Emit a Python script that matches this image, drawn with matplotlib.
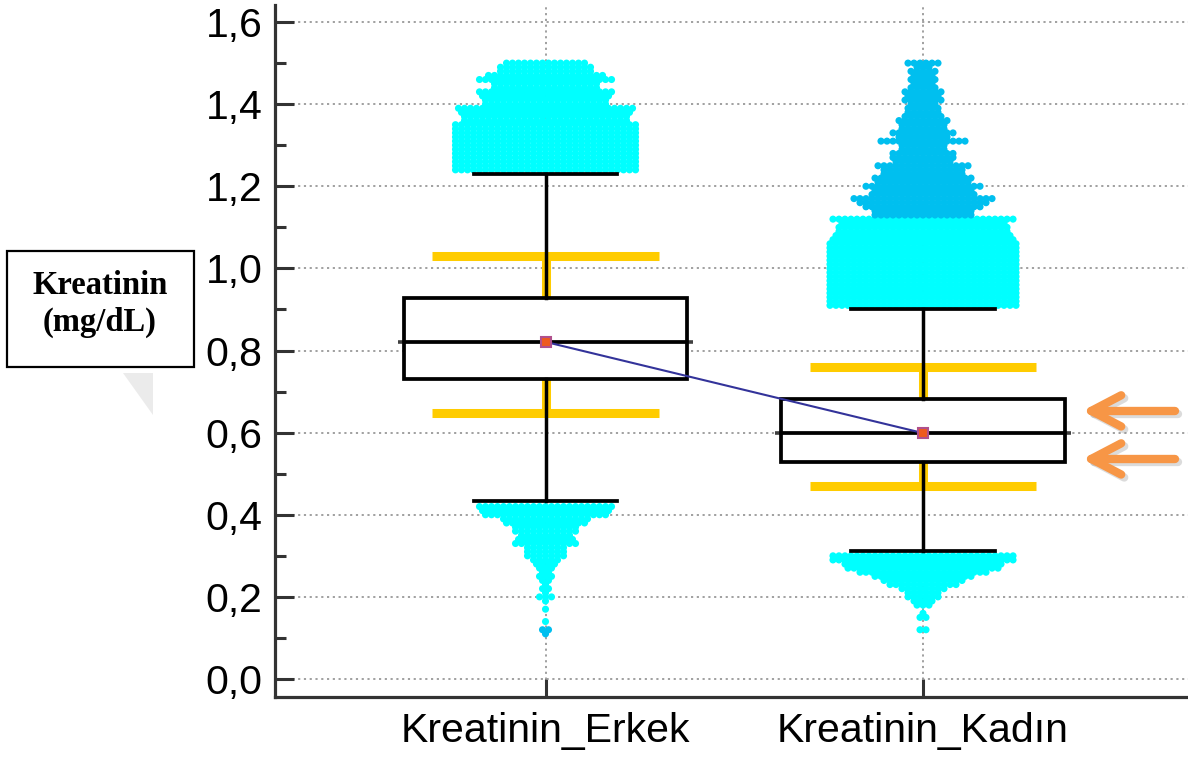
import numpy as np
import matplotlib
matplotlib.use("Agg")
import matplotlib.pyplot as plt
from matplotlib.lines import Line2D
from matplotlib.patches import Polygon, Rectangle

plt.rcParams['font.family'] = ['Liberation Sans', 'DejaVu Sans']

# --- data ---
groups = ["Kreatinin_Erkek", "Kreatinin_Kadın"]
q1 = [0.731, 0.528]
med = [0.821, 0.600]
q3 = [0.928, 0.682]
whis_lo = [0.434, 0.312]
whis_hi = [1.230, 0.901]
means = [0.821, 0.599]
ref_lo = [0.648, 0.470]   # yellow reference limits
ref_hi = [1.030, 0.760]

yticks = [0.0, 0.2, 0.4, 0.6, 0.8, 1.0, 1.2, 1.4, 1.6]
ytick_labels = ["0,0", "0,2", "0,4", "0,6", "0,8", "1,0", "1,2", "1,4", "1,6"]

# outliers: value level and number of points drawn on that level
erkek_hi_vals = [1.24, 1.25, 1.26, 1.27, 1.28, 1.29, 1.30, 1.31, 1.32, 1.33, 1.34, 1.35, 1.36, 1.37,
                 1.38, 1.39, 1.40, 1.41, 1.42, 1.43, 1.44, 1.45, 1.46, 1.47, 1.48, 1.49, 1.50]
erkek_hi_counts = [31, 31, 31, 31, 31, 31, 31, 31, 31, 31, 31, 31, 28, 28,
                   29, 30, 21, 21, 22, 23, 18, 18, 23, 20, 16, 16, 14]
erkek_lo_vals = [0.42, 0.41, 0.40, 0.39, 0.38, 0.37, 0.36, 0.35, 0.34, 0.33, 0.32, 0.31, 0.30,
                 0.29, 0.28, 0.27, 0.26, 0.25, 0.24, 0.23, 0.22, 0.21, 0.20, 0.19, 0.17, 0.14]
erkek_lo_counts = [23, 22, 21, 15, 14, 11, 11, 9, 10, 11, 7, 7, 7,
                   5, 4, 3, 2, 3, 2, 1, 2, 1, 3, 1, 1, 1]
erkek_far_vals = [0.12, 0.11]
erkek_far_counts = [2, 1]

kadin_hi_vals = [0.91, 0.92, 0.93, 0.94, 0.95, 0.96, 0.97, 0.98, 0.99, 1.00, 1.01,
                 1.02, 1.03, 1.04, 1.05, 1.06, 1.07, 1.08, 1.09, 1.10, 1.11, 1.12]
kadin_hi_counts = [32, 32, 32, 32, 32, 32, 32, 32, 32, 32, 32,
                   32, 32, 32, 32, 32, 31, 30, 29, 29, 28, 31]
kadin_far_vals = [1.13, 1.14, 1.15, 1.16, 1.17, 1.18, 1.19, 1.20, 1.21, 1.22, 1.23, 1.24, 1.25,
                  1.26, 1.27, 1.28, 1.29, 1.30, 1.31, 1.32, 1.33, 1.34, 1.35, 1.36, 1.37, 1.38,
                  1.39, 1.40, 1.41, 1.42, 1.43, 1.44, 1.45, 1.46, 1.47, 1.48, 1.49, 1.50]
kadin_far_counts = [17, 17, 20, 22, 24, 18, 17, 20, 16, 17, 14, 14, 16,
                    10, 11, 11, 8, 8, 15, 9, 11, 8, 8, 9, 7, 6,
                    6, 5, 7, 6, 7, 5, 4, 5, 4, 5, 3, 6]
kadin_lo_vals = [0.30, 0.29, 0.28, 0.27, 0.26, 0.25, 0.24, 0.23, 0.22, 0.21, 0.20, 0.19, 0.18,
                 0.16, 0.15, 0.12]
kadin_lo_counts = [31, 31, 27, 26, 22, 17, 14, 12, 8, 6, 6, 4, 3, 1, 2, 2]

positions = [1, 2]
NEAR = "#00FFFF"
FAR = "#00BFEF"
YELLOW = "#FFCC00"
AXC = "#333333"


def swarm(ax, x0, vals, counts, color, dx=0.0159):
    xs, ys = [], []
    for v, n in zip(vals, counts):
        off = (np.arange(n) - (n - 1) / 2.0) * dx
        xs.extend(x0 + off)
        ys.extend([v] * n)
    ax.scatter(xs, ys, s=26, marker="o", color=color, edgecolors="none", zorder=3)


fig = plt.figure(figsize=(11.88, 7.58), dpi=100)
ax = fig.add_axes([275 / 1188, 1 - 697 / 758, 913 / 1188, 692 / 758])
ax.set_xlim(0.2834, 2.702)
ax.set_ylim(-0.0438, 1.6415)

# outlier swarms
swarm(ax, 1, erkek_hi_vals, erkek_hi_counts, NEAR)
swarm(ax, 1, erkek_lo_vals, erkek_lo_counts, NEAR)
swarm(ax, 1, erkek_far_vals, erkek_far_counts, FAR)
swarm(ax, 2, kadin_hi_vals, kadin_hi_counts, NEAR)
swarm(ax, 2, kadin_far_vals, kadin_far_counts, FAR)
swarm(ax, 2, kadin_lo_vals, kadin_lo_counts, NEAR)

# yellow reference limits with their connectors to the box
ax.hlines(ref_hi, np.array(positions) - 0.30, np.array(positions) + 0.30, color=YELLOW, lw=6.5, zorder=3.5)
ax.hlines(ref_lo, np.array(positions) - 0.30, np.array(positions) + 0.30, color=YELLOW, lw=6.5, zorder=3.5)
ax.vlines(positions, q3, ref_hi, color=YELLOW, lw=6.5, zorder=3.5)
ax.vlines(positions, ref_lo, q1, color=YELLOW, lw=6.5, zorder=3.5)

# median extension outside the box
ax.hlines(med, np.array(positions) - 0.392, np.array(positions) + 0.392, color="#404040", lw=2.6, zorder=3.9)

stats = []
for i in range(2):
    stats.append(dict(med=med[i], q1=q1[i], q3=q3[i], whislo=whis_lo[i], whishi=whis_hi[i],
                      fliers=[], label=groups[i]))
ax.bxp(stats, positions=positions, widths=0.75, capwidths=0.38, patch_artist=True,
       showfliers=False, manage_ticks=False, zorder=4,
       boxprops=dict(facecolor="white", edgecolor="black", linewidth=2.7),
       whiskerprops=dict(color="black", linewidth=2.5),
       capprops=dict(color="black", linewidth=2.7),
       medianprops=dict(color="black", linewidth=2.7))

# means joined by a line
ax.plot(positions, means, "-s", color="#33339A", lw=1.5, ms=6.5, mfc="#EE5A1E",
        mec="#B0508C", mew=1.5, zorder=6)

# axes styling
for s in ["top", "right"]:
    ax.spines[s].set_visible(False)
for s in ["left", "bottom"]:
    ax.spines[s].set_color(AXC)
    ax.spines[s].set_linewidth(2.3)
ax.set_yticks(yticks)
ax.set_yticklabels(ytick_labels)
ax.set_yticks([0.1, 0.3, 0.5, 0.7, 0.9, 1.1, 1.3, 1.5], minor=True)
ax.set_xticks(positions)
ax.set_xticklabels(groups)
ax.tick_params(axis="y", which="major", direction="in", length=14, width=2.2, color=AXC,
               labelsize=29.5, pad=9)
ax.tick_params(axis="y", which="minor", direction="in", length=8, width=2.2, color=AXC)
ax.tick_params(axis="x", which="major", direction="in", length=13, width=2.2, color=AXC,
               labelsize=29.5, pad=11)
ax.grid(True, which="major", linestyle=(0, (1.2, 2.0)), color="#999999", lw=1.3)
ax.set_axisbelow(True)

# label box on the left
fig.add_artist(Rectangle((7 / 1188, 1 - 367 / 758), 187 / 1188, 116 / 758,
                         transform=fig.transFigure, fill=False, lw=1.6, ec="black"))
fig.text(100 / 1188, 1 - 304 / 758, "Kreatinin\n(mg/dL)", ha="center", va="center",
         family="Liberation Serif", weight="bold", fontsize=23.5, linespacing=1.25)
fig.add_artist(Polygon([(123 / 1188, 1 - 373 / 758), (153 / 1188, 1 - 373 / 758),
                        (153 / 1188, 1 - 415 / 758)], closed=True, transform=fig.transFigure,
                       fc="#ebebeb", ec="none"))

# orange arrows pointing at the Kadın box
ORANGE = "#F79646"
arrow_y = [0.653, 0.536]
for y in arrow_y:
    for dxs, col, a in [(0.008, "#999999", 0.35), (0.0, ORANGE, 1.0)]:
        dy = -dxs * 0.9
        ax.add_line(Line2D([2.668 + dxs, 2.446 + dxs], [y + dy, y + dy], color=col, alpha=a, lw=6,
                           solid_capstyle="round", clip_on=False, zorder=7))
        ax.add_line(Line2D([2.525 + dxs, 2.446 + dxs, 2.525 + dxs], [y + 0.038 + dy, y + dy, y - 0.038 + dy],
                           color=col, alpha=a, lw=6, solid_capstyle="round", solid_joinstyle="round",
                           clip_on=False, zorder=7))

fig.savefig("out.png", dpi=100)
